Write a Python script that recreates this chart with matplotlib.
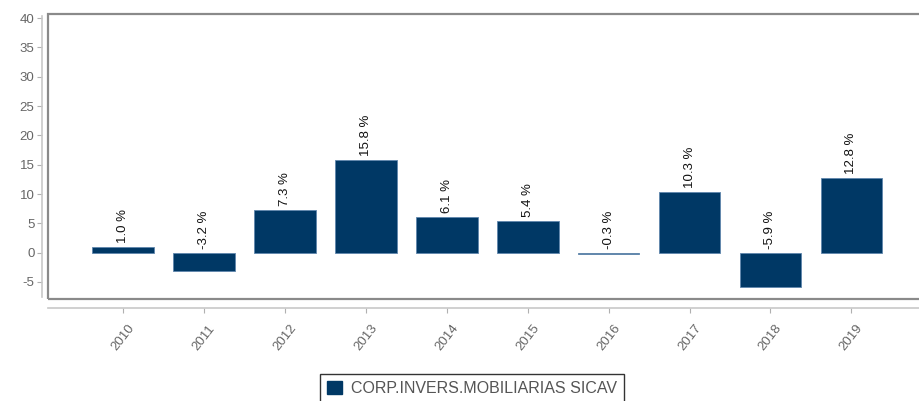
import matplotlib
matplotlib.use("Agg")
import matplotlib.pyplot as plt
from matplotlib.patches import Rectangle

years = ["2010", "2011", "2012", "2013", "2014", "2015", "2016", "2017", "2018", "2019"]
values = [1.0, -3.2, 7.3, 15.8, 6.1, 5.4, -0.3, 10.3, -5.9, 12.8]
yticks = [-5, 0, 5, 10, 15, 20, 25, 30, 35, 40]
series_name = "CORP.INVERS.MOBILIARIAS SICAV"

plt.rcParams['font.family'] = ['Liberation Sans', 'DejaVu Sans']

W, H = 919, 401
fig = plt.figure(figsize=(W / 100, H / 100), dpi=100)
left, right, top, bottom = 48, 925, 14, 299
ax = fig.add_axes([left / W, 1 - bottom / H, (right - left) / W, (bottom - top) / H])

navy = "#003865"
x = list(range(len(years)))
ax.bar(x, values, width=0.76, color=navy, edgecolor="#5f86ad", linewidth=0.6, zorder=3)

for xi, v in zip(x, values):
    ax.annotate(f"{v:.1f} %", xy=(xi, max(v, 0)), xytext=(0, 4), textcoords="offset pixels",
                rotation=90, ha="center", va="bottom", fontsize=9.5, color="#111111")

ax.set_xlim(-0.93, 9.91)
ax.set_ylim(-7.9, 40.7)
ax.set_yticks(yticks)
ax.set_yticklabels([str(t) for t in yticks])
ax.set_xticks(x)
ax.set_xticklabels(years)

for s in ["top", "right"]:
    ax.spines[s].set_visible(False)
ax.spines["left"].set_position(("outward", 4.3))
ax.spines["bottom"].set_position(("outward", 6.3))
ax.spines["left"].set_color("#c8c8c8")
ax.spines["bottom"].set_color("#c8c8c8")
ax.spines["left"].set_linewidth(1.2)
ax.spines["bottom"].set_linewidth(1.2)
ax.spines["left"].set_bounds(-7.5, 40.3)
ax.tick_params(axis="both", colors="#b0b0b0", labelcolor="#666666", labelsize=9.5, length=3.5, width=0.8)
ax.tick_params(axis="x", pad=7, labelrotation=52)
ax.tick_params(axis="y", pad=2)
for lab in ax.get_xticklabels():
    lab.set_ha("center")

frame = Rectangle((0, 0), 1, 1, transform=ax.transAxes, fill=False,
                  edgecolor="#8a8a8a", linewidth=1.6, clip_on=False, zorder=5)
ax.add_patch(frame)

leg_handle = Rectangle((0, 0), 1, 1, facecolor=navy, edgecolor=navy)
leg = fig.legend([leg_handle], [series_name], loc="upper left",
                 bbox_to_anchor=(320 / W, 1 - 374 / H), frameon=True, fancybox=False,
                 fontsize=11.5, handlelength=0.9, handleheight=0.9, borderpad=0.45,
                 handletextpad=0.6, borderaxespad=0)
leg.get_frame().set_edgecolor("#000000")
leg.get_frame().set_linewidth(1.0)
for t in leg.get_texts():
    t.set_color("#555555")

fig.savefig("out.png", dpi=100)
